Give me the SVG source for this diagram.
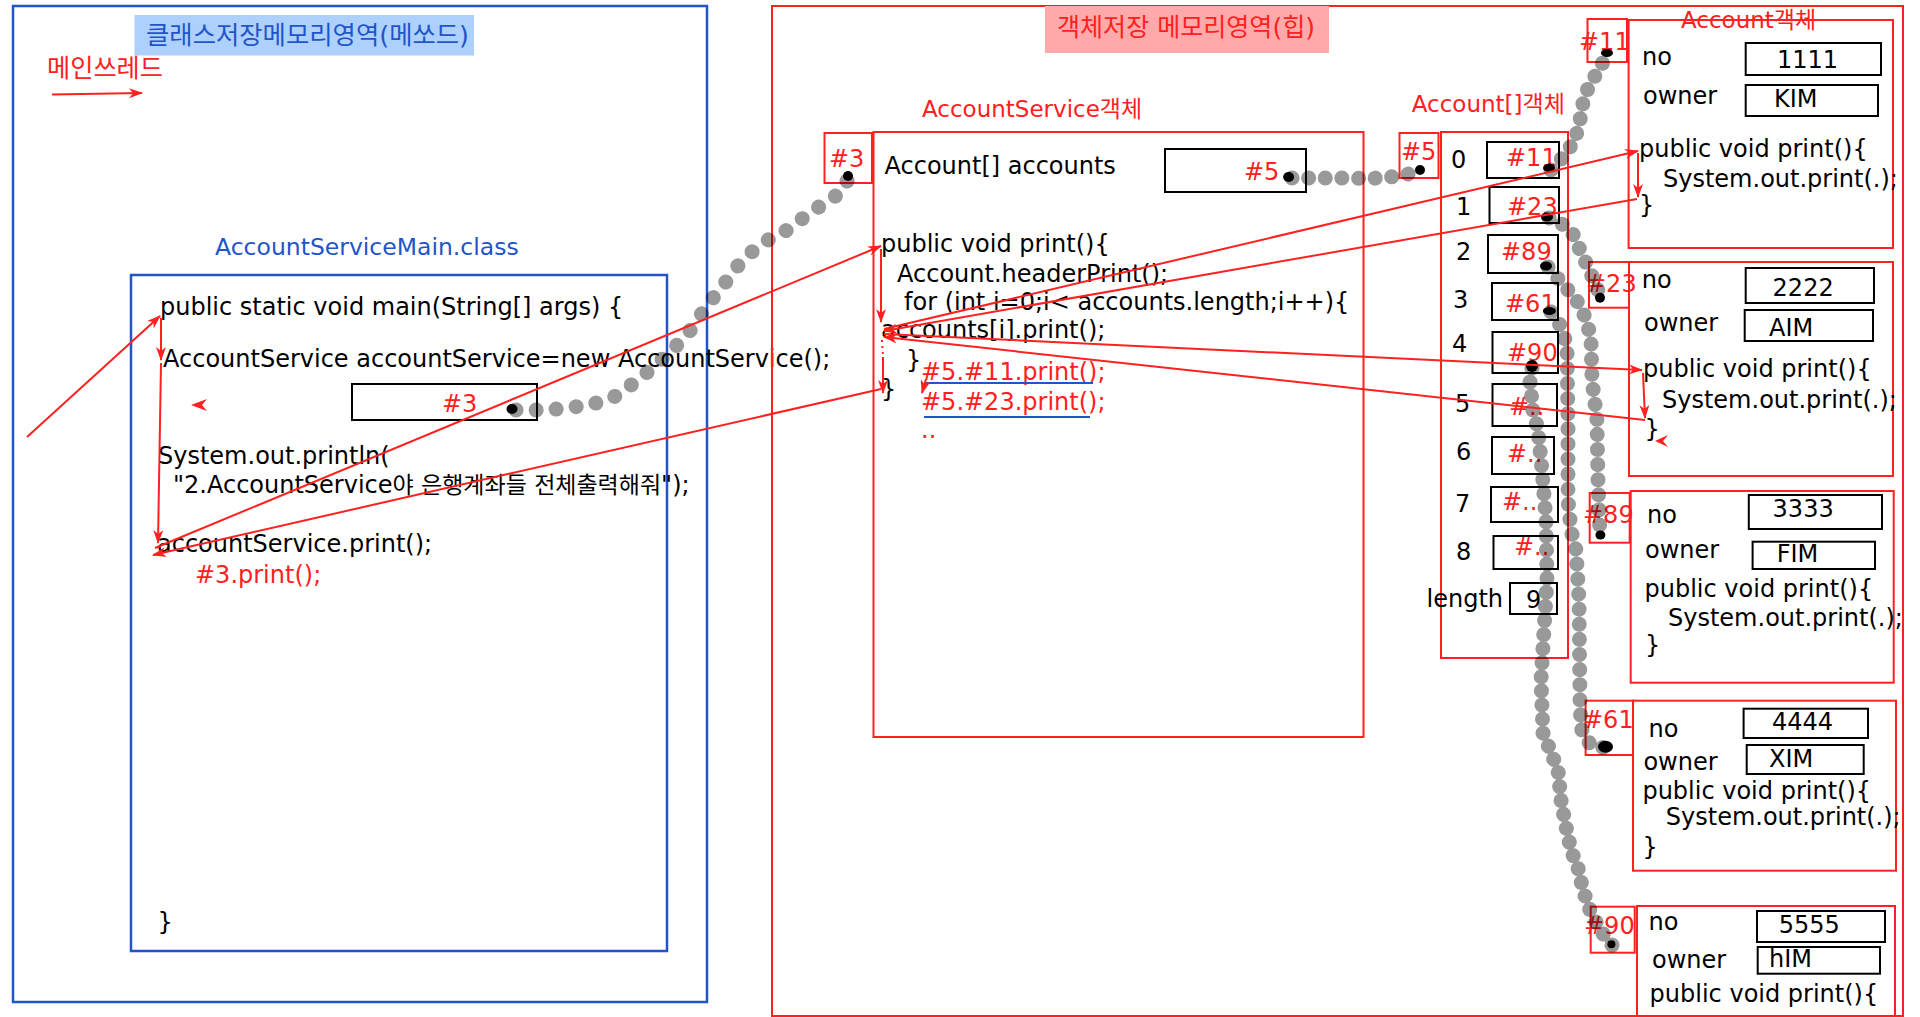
<svg xmlns="http://www.w3.org/2000/svg" width="1920" height="1017" viewBox="0 0 1920 1017">
<defs>
<style>
text{font-family:"DejaVu Sans","Noto Sans CJK KR",sans-serif;font-size:24px;fill:#000}
.r{fill:#ff2020}
.b{fill:#1f55c8}
.t{font-size:23px}
.kr{font-size:25px}
.rbox{fill:none;stroke:#ff2020;stroke-width:2}
.kbox{fill:none;stroke:#000;stroke-width:2}
.bbox{fill:none;stroke:#1f55c8;stroke-width:2.5}
.arr{fill:none;stroke:#ff2020;stroke-width:2;marker-end:url(#ah)}
.chain{fill:none;stroke:#000;stroke-opacity:0.4;stroke-width:15;stroke-linecap:round;stroke-linejoin:round;stroke-dasharray:0.1 15}
.dot{fill:#000}
.ul{stroke:#1f55c8;stroke-width:2}
</style>
<marker id="ah" viewBox="0 0 14 10" refX="13" refY="5" markerWidth="14" markerHeight="10" markerUnits="userSpaceOnUse" orient="auto"><path d="M0,0 L14,5 L0,10 L4,5 Z" fill="#ff2020"/></marker>
</defs>
<rect width="1920" height="1017" fill="#fff"/>

<g id="method-area">
<rect x="13" y="6" width="694" height="996" class="bbox"/>
<rect x="134.5" y="15" width="339.5" height="40.5" fill="#aed0fc"/>
<text x="146" y="44" class="kr b" textLength="323" lengthAdjust="spacingAndGlyphs">클래스저장메모리영역(메쏘드)</text>
<text x="47" y="77" class="kr r" textLength="116" lengthAdjust="spacingAndGlyphs">메인쓰레드</text>
</g>

<g id="main-class">
<text x="215" y="255" class="t b" style="font-size:23.5px">AccountServiceMain.class</text>
<rect x="131" y="275" width="536" height="676" class="bbox"/>
<text x="160" y="315">public static void main(String[] args) {</text>
<text x="163" y="367">AccountService accountService=new AccountService();</text>
<rect x="352" y="384" width="185" height="36" class="kbox"/>
<text x="442" y="412" class="r">#3</text>
<text x="158" y="464">System.out.println(</text>
<text x="173" y="493">"2.AccountService<tspan style="font-size:23px">야 은행계좌들 전체출력해줘</tspan>");</text>
<text x="157" y="552">accountService.print();</text>
<text x="195" y="583" class="r">#3.print();</text>
<text x="157.5" y="930">}</text>
</g>

<g id="heap">
<rect x="772" y="6" width="1131" height="1010" class="rbox"/>
<rect x="1045" y="6" width="284" height="47" fill="#ffaaaa"/>
<text x="1057" y="36" class="kr r" textLength="258" lengthAdjust="spacingAndGlyphs">객체저장 메모리영역(힙)</text>
</g>

<g id="account-service">
<text x="922" y="117" class="t r">AccountService객체</text>
<rect x="824.5" y="133" width="47.5" height="50" class="rbox"/>
<text x="829" y="167" class="r">#3</text>
<rect x="873.5" y="132" width="490" height="605" class="rbox"/>
<text x="884.5" y="174">Account[] accounts</text>
<rect x="1165" y="149" width="141" height="43" class="kbox"/>
<text x="1244" y="180" class="r">#5</text>
<text x="881" y="252">public void print(){</text>
<text x="897" y="282">Account.headerPrint();</text>
<text x="904" y="310">for (int i=0;i&lt; accounts.length;i++){</text>
<text x="881" y="338">accounts[i].print();</text>
<text x="906" y="368">}</text>
<text x="881" y="397">}</text>
<text x="921" y="380" class="r">#5.#11.print();</text>
<text x="921" y="410" class="r">#5.#23.print();</text>
<text x="921" y="438" class="r">..</text>
<line x1="925" y1="383" x2="1093" y2="383" class="ul"/>
<line x1="924" y1="417" x2="1090" y2="417" class="ul"/>
</g>

<g id="account-array">
<text x="1411.7" y="112" class="t r">Account[]객체</text>
<rect x="1399.5" y="133" width="39" height="45" class="rbox"/>
<text x="1401" y="160" class="r">#5</text>
<rect x="1441" y="132" width="127" height="526" class="rbox"/>
<text x="1451" y="168">0</text>
<text x="1456" y="215">1</text>
<text x="1456" y="260">2</text>
<text x="1453" y="308">3</text>
<text x="1452" y="352">4</text>
<text x="1455" y="412">5</text>
<text x="1456" y="460">6</text>
<text x="1455" y="512">7</text>
<text x="1456" y="560">8</text>
<rect x="1487" y="142" width="72" height="36" class="kbox"/>
<text x="1506" y="166" class="r">#11</text>
<rect x="1489.5" y="187" width="69.5" height="36" class="kbox"/>
<text x="1507" y="215" class="r">#23</text>
<rect x="1488" y="235" width="70" height="38" class="kbox"/>
<text x="1501" y="260" class="r">#89</text>
<rect x="1492" y="283" width="66" height="37" class="kbox"/>
<text x="1505" y="312" class="r">#61</text>
<rect x="1492.5" y="332" width="65.5" height="41" class="kbox"/>
<text x="1507" y="361" class="r">#90</text>
<rect x="1492.5" y="384" width="64.5" height="42" class="kbox"/>
<text x="1509" y="415" class="r">#..</text>
<rect x="1492" y="437" width="62" height="37" class="kbox"/>
<text x="1507" y="462" class="r">#..</text>
<rect x="1491" y="487" width="67" height="35" class="kbox"/>
<text x="1502" y="510" class="r">#..</text>
<rect x="1493.5" y="536" width="64.5" height="33" class="kbox"/>
<text x="1514" y="555" class="r">#..</text>
<text x="1426.5" y="607">length</text>
<rect x="1510" y="583" width="47" height="31" class="kbox"/>
<text x="1526" y="608">9</text>
</g>

<g id="account-11">
<rect x="1628.6" y="20" width="264.4" height="228" class="rbox"/>
<text x="1681" y="28" class="t r">Account객체</text>
<rect x="1587.5" y="19" width="39.5" height="43" class="rbox"/>
<text x="1579" y="50" class="r">#11</text>
<text x="1642" y="65">no</text>
<rect x="1745.7" y="43" width="135.3" height="32" class="kbox"/>
<text x="1777" y="68">1111</text>
<text x="1643" y="104">owner</text>
<rect x="1745.7" y="85" width="132.3" height="31" class="kbox"/>
<text x="1774" y="107">KIM</text>
<text x="1639" y="157">public void print(){</text>
<text x="1663" y="187">System.out.print(.);</text>
<text x="1639" y="213">}</text>
</g>

<g id="account-23">
<rect x="1629" y="262" width="264" height="214" class="rbox"/>
<rect x="1589" y="262" width="40" height="45.7" class="rbox"/>
<text x="1586" y="291.7" class="r">#23</text>
<text x="1641.7" y="288">no</text>
<rect x="1745.7" y="268" width="128.3" height="35" class="kbox"/>
<text x="1772.6" y="296">2222</text>
<text x="1644" y="330.7">owner</text>
<rect x="1744.7" y="310" width="128.3" height="31" class="kbox"/>
<text x="1769" y="335.7">AIM</text>
<text x="1643" y="376.7">public void print(){</text>
<text x="1662" y="408">System.out.print(.);</text>
<text x="1644.5" y="436.7">}</text>
</g>

<g id="account-89">
<rect x="1630.7" y="491" width="263" height="191.7" class="rbox"/>
<rect x="1589.7" y="493" width="40" height="49.7" class="rbox"/>
<text x="1583" y="522.7" class="r">#89</text>
<text x="1647" y="523">no</text>
<rect x="1748.8" y="495" width="133.2" height="34" class="kbox"/>
<text x="1772.6" y="516.7">3333</text>
<text x="1645" y="558">owner</text>
<rect x="1752.6" y="541.7" width="122.4" height="27.3" class="kbox"/>
<text x="1776.7" y="561.7">FIM</text>
<text x="1644.5" y="597">public void print(){</text>
<text x="1668" y="625.7">System.out.print(.);</text>
<text x="1645" y="653">}</text>
</g>

<g id="account-61">
<rect x="1633" y="700.7" width="263" height="170" class="rbox"/>
<rect x="1585.6" y="700.7" width="47.4" height="54.3" class="rbox"/>
<text x="1583" y="728" class="r">#61</text>
<text x="1648.6" y="736.7">no</text>
<rect x="1743.6" y="708.7" width="124.4" height="29.3" class="kbox"/>
<text x="1772" y="730">4444</text>
<text x="1643.4" y="770">owner</text>
<rect x="1746.7" y="745" width="117" height="29" class="kbox"/>
<text x="1769" y="767">XIM</text>
<text x="1642.4" y="799.3">public void print(){</text>
<text x="1665.8" y="825">System.out.print(.);</text>
<text x="1642.4" y="855">}</text>
</g>

<g id="account-90">
<rect x="1637" y="906" width="258" height="120" class="rbox"/>
<rect x="1590.7" y="906.7" width="44" height="46" class="rbox"/>
<text x="1584" y="934" class="r">#90</text>
<text x="1648.6" y="930">no</text>
<rect x="1757" y="911" width="128" height="31" class="kbox"/>
<text x="1778.8" y="932.7">5555</text>
<text x="1652" y="968">owner</text>
<rect x="1757.7" y="947" width="122.3" height="26.7" class="kbox"/>
<text x="1769" y="966.7">hIM</text>
<text x="1649.6" y="1001.7">public void print(){</text>
</g>

<g id="connectors">
<path class="chain" style="stroke-dasharray:0.1 20" d="M516,410 L548,410 L590,405 L614,397 L634,383 L650,370 L669,353 L687,335 L709,303 L725,283 L740,263 L755,249 L768,240 L791,228 L809,213 L827,202 L844,190 L848,178"/>
<path class="chain" style="stroke-dasharray:0.1 16.5" d="M1292,178 L1350,178 Q1390,180 1420,171"/>
<path class="chain" d="M1551,170 L1564,156 L1575,140 L1580,120 L1583,103 L1588,88 L1595,76 L1602,64 L1607,54"/>
<path class="chain" d="M1549,218 L1557,220 L1572,232 L1580,250 L1587,265 L1595,283 L1601,298"/>
<path class="chain" d="M1548,267 L1553,273 L1568,290 L1580,305 L1587,322 L1591,340 L1592,380 L1597,420 L1598,480 L1599,510 L1600,535"/>
<path class="chain" d="M1551,312 L1560,325 L1567,345 L1568,420 L1568,500 L1571,530 L1576,550 L1579,600 L1580,700 L1581,728 L1588,742 L1598,748 L1606,747"/>
<path class="chain" style="stroke-dasharray:0.1 14" d="M1532,368 L1530,382 L1533,410 L1538,430 L1542,470 L1546,520 L1547,580 L1544,630 L1541,680 L1542,707 L1543,733 L1550,750 L1558,770 L1561,800 L1565,822 L1571,850 L1578,868 L1583,890 L1590,910 L1600,930 L1612,945"/>

<ellipse cx="512" cy="409" rx="5.5" ry="5" class="dot"/>
<ellipse cx="848" cy="176" rx="5" ry="5" class="dot"/>
<ellipse cx="1288.6" cy="177" rx="5.5" ry="5" class="dot"/>
<ellipse cx="1420" cy="170" rx="5" ry="5" class="dot"/>
<ellipse cx="1549" cy="168" rx="6" ry="4" class="dot"/>
<ellipse cx="1547" cy="217" rx="6" ry="4.5" class="dot"/>
<ellipse cx="1546" cy="266" rx="6" ry="4.5" class="dot"/>
<ellipse cx="1549.4" cy="311" rx="6.5" ry="4" class="dot"/>
<ellipse cx="1532" cy="366" rx="6" ry="6" class="dot"/>
<ellipse cx="1607" cy="53" rx="6" ry="4" class="dot"/>
<ellipse cx="1600" cy="297.7" rx="5" ry="5" class="dot"/>
<ellipse cx="1600.4" cy="535" rx="5" ry="4.5" class="dot"/>
<ellipse cx="1605.5" cy="746.7" rx="7.5" ry="6" class="dot"/>
<ellipse cx="1611.4" cy="944.3" rx="4" ry="4" class="dot"/>

<line x1="52" y1="94.5" x2="142" y2="93" class="arr"/>
<line x1="27" y1="437" x2="160" y2="316" class="arr"/>
<line x1="161" y1="318" x2="161" y2="360" class="arr"/>
<line x1="161" y1="363" x2="158" y2="543" class="arr"/>
<line x1="155" y1="548" x2="881" y2="246" class="arr"/>
<line x1="881" y1="389" x2="153" y2="555" class="arr"/>
<line x1="881" y1="249" x2="881" y2="322" class="arr"/>
<line x1="882" y1="340" x2="883" y2="357" style="fill:none;stroke:#ff2020;stroke-width:2;stroke-dasharray:2 4"/>
<line x1="883" y1="357" x2="883" y2="393" class="arr"/>
<line x1="926" y1="379" x2="922" y2="393" class="arr"/>
<line x1="884" y1="329" x2="1638" y2="151" class="arr"/>
<line x1="1637" y1="199" x2="884" y2="331" class="arr"/>
<line x1="884" y1="334" x2="1642" y2="370" class="arr"/>
<line x1="1645" y1="420" x2="884" y2="337" class="arr"/>
<line x1="1638" y1="153" x2="1638" y2="197" class="arr"/>
<line x1="1643" y1="373" x2="1645" y2="418" class="arr"/>
<path d="M191,405 L207,399 L202,405 L207,411 Z" fill="#ff2020"/>
<path d="M1655,441 L1668,435 L1663,441 L1668,447 Z" fill="#ff2020"/>
</g>
</svg>
